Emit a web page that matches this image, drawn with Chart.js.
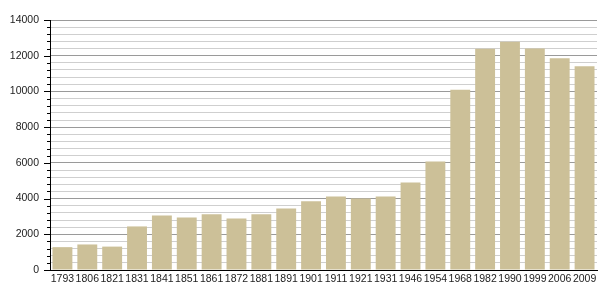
<!DOCTYPE html>
<html>
<head>
<meta charset="utf-8">
<script src="https://cdn.jsdelivr.net/npm/chart.js@4/dist/chart.umd.min.js"></script>
<style>
  html, body { margin: 0; padding: 0; background: #fff; }
  #wrap { width: 605px; height: 300px; position: relative; }
</style>
</head>
<body>
<div id="wrap"><canvas id="c" width="605" height="300"></canvas></div>
<script>
const years = ["1793","1806","1821","1831","1841","1851","1861","1872","1881","1891","1901","1911","1921","1931","1946","1954","1968","1982","1990","1999","2006","2009"];
const population = [1280,1430,1310,2440,3050,2940,3120,2880,3120,3440,3850,4110,4000,4110,4900,6070,10100,12390,12780,12400,11860,11410];
const yMin = 0;
const yMax = 14000;
const yStep = 400;
const yLabelStep = 2000;

const tickMarks = {
  id: 'tickMarks',
  afterDraw(chart) {
    const s = chart.scales.y;
    const ctx = chart.ctx;
    const x = s.right;
    ctx.save();
    ctx.strokeStyle = '#000';
    ctx.lineWidth = 1;
    s.ticks.forEach(t => {
      const y = Math.round(s.getPixelForValue(t.value)) + 0.5;
      const len = (t.value % yLabelStep === 0) ? 6 : 3;
      ctx.beginPath();
      ctx.moveTo(x - len, y);
      ctx.lineTo(x, y);
      ctx.stroke();
    });
    ctx.restore();
  }
};

new Chart(document.getElementById('c'), {
  type: 'bar',
  data: {
    labels: years,
    datasets: [{
      data: population,
      backgroundColor: '#ccc098',
      borderWidth: 0,
      categoryPercentage: 1.0,
      barPercentage: 0.8
    }]
  },
  options: {
    responsive: false,
    animation: false,
    devicePixelRatio: 1,
    layout: { padding: { top: 20, right: 8, left: 0, bottom: 0 } },
    plugins: { legend: { display: false }, tooltip: { enabled: false } },
    scales: {
      x: {
        grid: { display: false, drawTicks: false },
        border: { color: '#000', width: 1 },
        ticks: {
          autoSkip: false, maxRotation: 0, minRotation: 0,
          color: '#222', padding: 3,
          font: { family: '"Liberation Sans", Arial, sans-serif', size: 10.5 }
        },
        afterFit(scale) { scale.height = 30; }
      },
      y: {
        min: yMin, max: yMax,
        grid: {
          drawTicks: false,
          color: ctx => (ctx.tick && ctx.tick.value % yLabelStep === 0) ? '#9a9a9a' : '#cfcfcf',
          lineWidth: 1
        },
        border: { color: '#000', width: 1 },
        ticks: {
          stepSize: yStep,
          autoSkip: false,
          padding: 11,
          color: '#222',
          font: { family: '"Liberation Sans", Arial, sans-serif', size: 10.5 },
          callback: v => (v % yLabelStep === 0) ? String(v) : ''
        },
        afterFit(scale) { scale.width = 50; }
      }
    }
  },
  plugins: [tickMarks]
});
</script>
</body>
</html>
